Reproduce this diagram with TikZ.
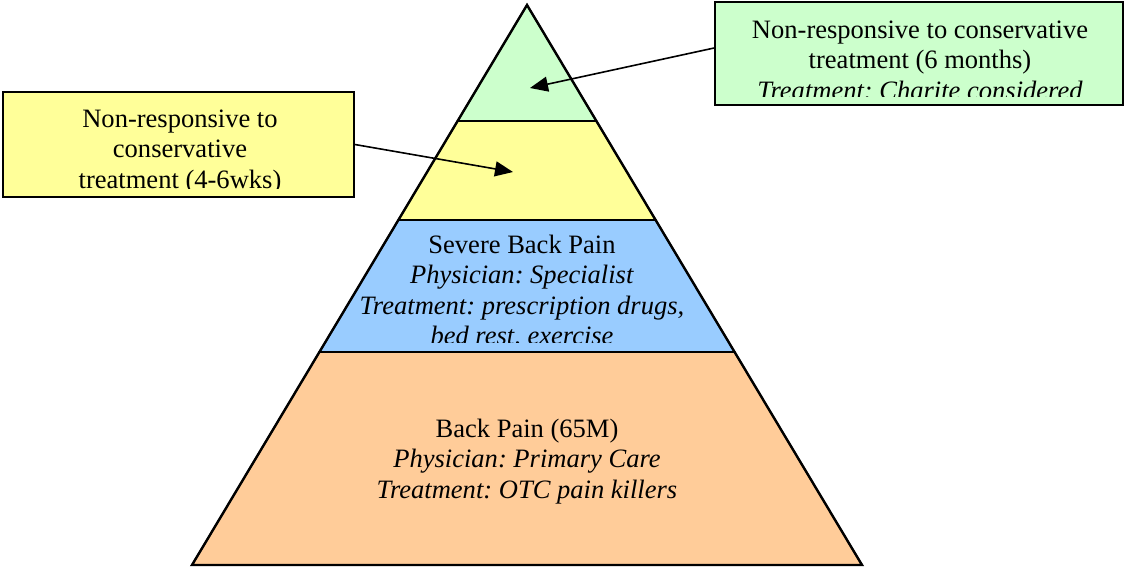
\documentclass[tikz,border=0pt]{standalone}
\usepackage{fontspec}
\setmainfont{Liberation Serif}
\usetikzlibrary{arrows.meta,calc}
\frenchspacing

\definecolor{tipgreen}{RGB}{204,255,204}
\definecolor{midyellow}{RGB}{255,255,153}
\definecolor{sevblue}{RGB}{153,204,255}
\definecolor{baseorange}{RGB}{255,204,153}

\begin{document}
\begin{tikzpicture}[
    x=0.5pt, y=-0.5pt,
    layer/.style={draw=black, line width=0.8pt},
    callout/.style={rectangle, draw=black, line width=0.9pt, inner sep=0pt},
    label/.style={align=center, anchor=base, inner sep=0pt, font=\fontsize{13.27}{15.25}\selectfont},
    pointer/.style={-{Triangle[length=9pt,width=7.5pt]}, line width=0.8pt}
]
\useasboundingbox (0,0) rectangle (1125,568);

% Pyramid corners and layer cuts
\coordinate (apex) at (527,5);
\coordinate (bl) at (192,565);
\coordinate (br) at (862,565);
\coordinate (l1) at ($(apex)!0.2071!(bl)$);
\coordinate (r1) at ($(apex)!0.2071!(br)$);
\coordinate (l2) at ($(apex)!0.3839!(bl)$);
\coordinate (r2) at ($(apex)!0.3839!(br)$);
\coordinate (l3) at ($(apex)!0.6196!(bl)$);
\coordinate (r3) at ($(apex)!0.6196!(br)$);

% Layers
\filldraw[layer, fill=tipgreen] (apex) -- (r1) -- (l1) -- cycle;
\filldraw[layer, fill=midyellow] (l1) -- (r1) -- (r2) -- (l2) -- cycle;
\filldraw[layer, fill=sevblue] (l2) -- (r2) -- (r3) -- (l3) -- cycle;
\filldraw[layer, fill=baseorange] (l3) -- (r3) -- (br) -- (bl) -- cycle;
\draw[line width=1.2pt, line join=miter] (apex) -- (br) -- (bl) -- cycle;

% Layer texts (anchored at the last baseline)
\begin{scope}
  \clip (300,225) rectangle (760,342);
  \node[label] (sevtext) at (522,344.5) {Severe Back Pain\\
    \textit{Physician: Specialist}\\
    \textit{Treatment: prescription drugs,}\\
    \textit{bed rest, exercise}};
\end{scope}
\node[label] (basetext) at (527,498) {Back Pain (65M)\\
  \textit{Physician: Primary Care}\\
  \textit{Treatment: OTC pain killers}};

% Callout boxes
\node[callout, fill=tipgreen, minimum width=204pt, minimum height=51.5pt] (gbox) at (919,53.5) {};
\node[callout, fill=midyellow, minimum width=175.5pt, minimum height=52.5pt] (ybox) at (178.5,144.5) {};

\begin{scope}
  \clip (717,4) rectangle (1121,96);
  \node[label] (gtext) at (920,99) {Non-responsive to conservative\\
    treatment (6 months)\\
    \textit{Treatment: Charite considered}};
\end{scope}
\begin{scope}
  \clip (5,94) rectangle (352,188);
  \node[label] (ytext) at (180,188) {Non-responsive to\\
    conservative\\
    treatment (4-6wks)};
\end{scope}

% Pointers
\coordinate (gtip) at (530,88);
\coordinate (ytip) at (513,172);
\draw[pointer] ([yshift=2.75pt]gbox.west) -- (gtip);
\draw[pointer] (ybox.east) -- (ytip);

\end{tikzpicture}
\end{document}
